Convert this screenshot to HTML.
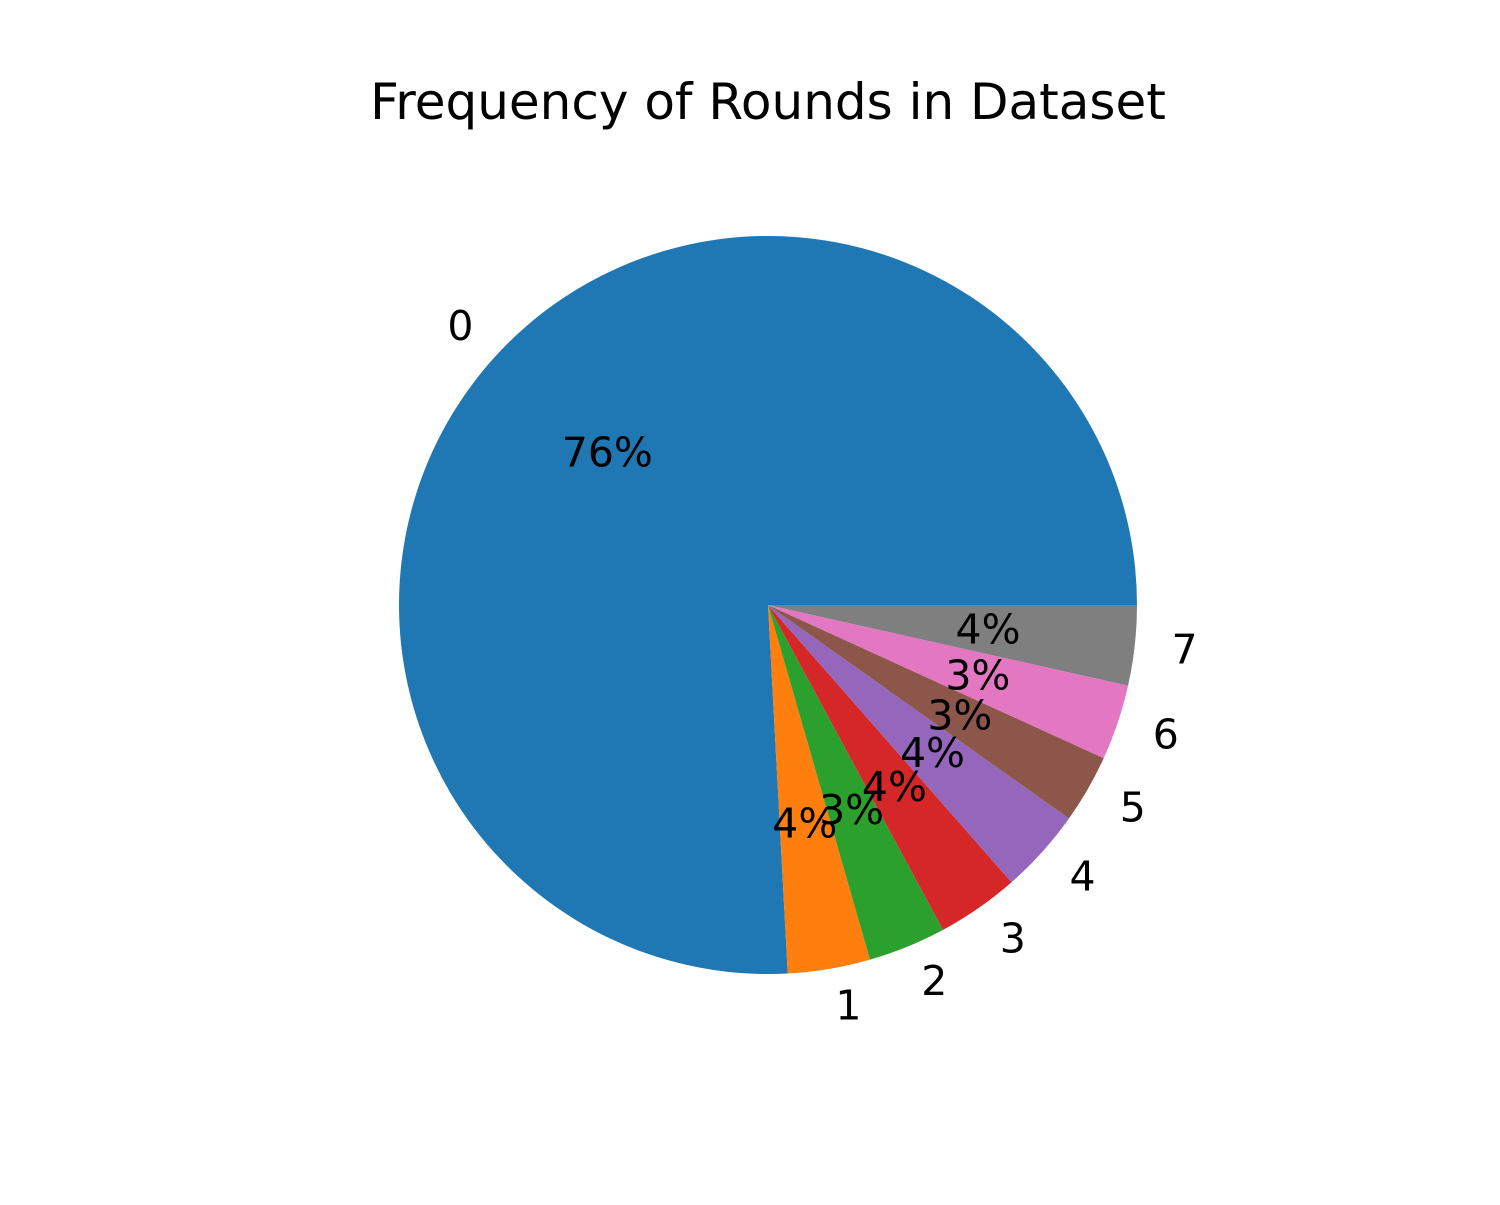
<!DOCTYPE html>
<html><head><meta charset="utf-8"><style>
body{margin:0;background:#fff}
svg text{font-family:"DejaVu Sans","Liberation Sans",sans-serif;fill:#000}
</style></head><body>
<svg id="chart" width="1500" height="1200" xmlns="http://www.w3.org/2000/svg">
<rect width="1500" height="1200" fill="#fff"/>
<text x="768" y="119" text-anchor="middle" font-size="50">Frequency of Rounds in Dataset</text>
<g id="slices"></g><g id="labels"></g>
</svg>
<script>
const categories = ["0","1","2","3","4","5","6","7"];
const counts = [757, 36, 34, 36, 37, 30, 33, 35];
const colors = ["#1f77b4","#ff7f0e","#2ca02c","#d62728","#9467bd","#8c564b","#e377c2","#7f7f7f"];
const cx = 768, cy = 605, r = 369;
const NS = "http://www.w3.org/2000/svg";
const total = counts.reduce((a,b)=>a+b,0);
const gs = document.getElementById('slices'), gl = document.getElementById('labels');
let a0 = 0;
function pt(a, rr){ return [cx + rr*Math.cos(a), cy - rr*Math.sin(a)]; }
counts.forEach((v,i)=>{
  const a1 = a0 + v/total*2*Math.PI;
  const [x0,y0] = pt(a0,r), [x1,y1] = pt(a1,r);
  const large = (a1-a0) > Math.PI ? 1 : 0;
  const p = document.createElementNS(NS,'path');
  p.setAttribute('d',`M${cx},${cy} L${x0},${y0} A${r},${r} 0 ${large} 0 ${x1},${y1} Z`);
  p.setAttribute('fill',colors[i]);
  
  
  gs.appendChild(p);
  const am = (a0+a1)/2;
  const [lx,ly] = pt(am, 1.1*r);
  const t = document.createElementNS(NS,'text');
  t.setAttribute('x',lx); t.setAttribute('y',ly);
  t.setAttribute('font-size','41');
  t.setAttribute('dominant-baseline','central');
  t.setAttribute('text-anchor', Math.cos(am) >= 0 ? 'start' : 'end');
  t.textContent = categories[i];
  
  
  gl.appendChild(t);
  const [px,py] = pt(am, 0.6*r);
  const q = document.createElementNS(NS,'text');
  q.setAttribute('x',px); q.setAttribute('y',py);
  q.setAttribute('font-size','41');
  q.setAttribute('dominant-baseline','central');
  q.setAttribute('text-anchor','middle');
  q.textContent = Math.round(v/total*100) + '%';
  
  
  gl.appendChild(q);
  a0 = a1;
});
</script>
</body></html>
